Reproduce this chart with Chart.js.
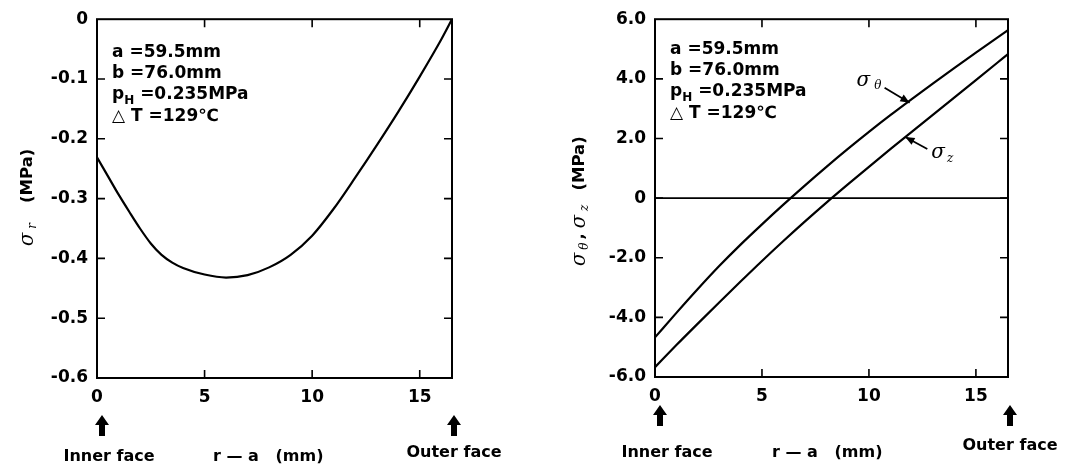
<!DOCTYPE html>
<html>
<head>
<meta charset="utf-8">
<script src="https://cdn.jsdelivr.net/npm/chart.js@4"></script>
<style>
  html, body { margin: 0; padding: 0; background: #fff; }
  #wrap { position: relative; width: 1070px; height: 464px; }
  .box { position: absolute; top: 0; width: 535px; height: 464px; }
</style>
</head>
<body>
<div id="wrap">
  <div class="box" style="left:0"><canvas id="leftChart"></canvas></div>
  <div class="box" style="left:535px"><canvas id="rightChart"></canvas></div>
</div>
<script>
// --- data ---
const rLeft = [0, 0.5, 1, 1.5, 2, 2.5, 3, 3.5, 4, 5, 6, 7, 8, 9, 10, 11, 12, 13, 14, 15, 16, 16.5];
const sigmaR = [-0.231, -0.262, -0.293, -0.322, -0.35, -0.375, -0.394, -0.407, -0.416, -0.427, -0.432,
                -0.428, -0.415, -0.394, -0.362, -0.317, -0.265, -0.211, -0.155, -0.096, -0.034, 0];

const rRight = [0, 1, 2, 3, 4, 5, 6, 7, 8, 9, 10, 11, 12, 13, 14, 15, 16, 16.5];
const sigmaTheta = [-4.67, -3.85, -3.05, -2.28, -1.56, -0.88, -0.22, 0.42, 1.04, 1.64,
                    2.22, 2.78, 3.32, 3.85, 4.37, 4.88, 5.38, 5.63];
const sigmaZ = [-5.67, -4.93, -4.21, -3.50, -2.80, -2.11, -1.44, -0.79, -0.16, 0.45,
                1.05, 1.64, 2.22, 2.80, 3.38, 3.96, 4.54, 4.83];

const xTicks = [0, 5, 10, 15];
const yTicksLeft = [0, -0.1, -0.2, -0.3, -0.4, -0.5, -0.6];
const yLabelsLeft = ['0', '-0.1', '-0.2', '-0.3', '-0.4', '-0.5', '-0.6'];
const yTicksRight = [6, 4, 2, 0, -2, -4, -6];
const yLabelsRight = ['6.0', '4.0', '2.0', '0', '-2.0', '-4.0', '-6.0'];

const SANS = '"DejaVu Sans", sans-serif';
const SERIF = '"DejaVu Serif", serif';

// parameter block, as rich text parts
const paramLines = [
  [{ t: 'a =59.5mm' }],
  [{ t: 'b =76.0mm' }],
  [{ t: 'p' }, { t: 'H', sub: true }, { t: ' =0.235MPa' }],
  [{ t: '△ T =129℃' }]
];

// draw a line of mixed text (subscripts, italic sigma)
function drawRich(ctx, parts, x, y, size) {
  let cx = x;
  ctx.textBaseline = 'middle';
  ctx.textAlign = 'left';
  for (const p of parts) {
    cx += p.gap || 0;
    const s = p.sub ? Math.round(size * 0.72) : (p.sig ? size + 3 : size);
    ctx.font = p.sig ? `italic ${s}px ${SERIF}` : `bold ${s}px ${SANS}`;
    ctx.fillText(p.t, cx, y + (p.sub ? size * 0.32 : 0));
    cx += ctx.measureText(p.t).width;
  }
  return cx - x;
}

function upArrow(ctx, x, top) {
  ctx.beginPath();
  ctx.moveTo(x, top);
  ctx.lineTo(x + 7, top + 10);
  ctx.lineTo(x + 3, top + 10);
  ctx.lineTo(x + 3, top + 21);
  ctx.lineTo(x - 3, top + 21);
  ctx.lineTo(x - 3, top + 10);
  ctx.lineTo(x - 7, top + 10);
  ctx.closePath();
  ctx.fill();
}

function lineArrow(ctx, x1, y1, x2, y2) {
  ctx.beginPath();
  ctx.moveTo(x1, y1);
  ctx.lineTo(x2, y2);
  ctx.stroke();
  const a = Math.atan2(y2 - y1, x2 - x1);
  ctx.beginPath();
  ctx.moveTo(x2, y2);
  ctx.lineTo(x2 - 10 * Math.cos(a - 0.4), y2 - 10 * Math.sin(a - 0.4));
  ctx.lineTo(x2 - 10 * Math.cos(a + 0.4), y2 - 10 * Math.sin(a + 0.4));
  ctx.closePath();
  ctx.fill();
}

// frame, inward ticks and all the text around the plot
const framePlugin = {
  id: 'frame',
  afterDraw(chart, args, o) {
    const { ctx, chartArea: ca } = chart;
    const xs = chart.scales.x, ys = chart.scales.y;
    ctx.save();
    ctx.strokeStyle = '#000';
    ctx.fillStyle = '#000';
    ctx.lineWidth = 2;
    ctx.strokeRect(ca.left, ca.top, ca.right - ca.left, ca.bottom - ca.top);

    ctx.lineWidth = 1.6;
    ctx.beginPath();
    xTicks.forEach(v => {
      const px = xs.getPixelForValue(v);
      if (px - ca.left < 3) return;
      ctx.moveTo(px, ca.bottom); ctx.lineTo(px, ca.bottom - 8);
      ctx.moveTo(px, ca.top); ctx.lineTo(px, ca.top + 8);
    });
    o.yTicks.forEach(v => {
      const py = ys.getPixelForValue(v);
      if (py - ca.top < 3 || ca.bottom - py < 3) return;
      ctx.moveTo(ca.left, py); ctx.lineTo(ca.left + 8, py);
      ctx.moveTo(ca.right, py); ctx.lineTo(ca.right - 8, py);
    });
    ctx.stroke();

    if (o.zeroLine) {
      const py = ys.getPixelForValue(0);
      ctx.lineWidth = 1.6;
      ctx.beginPath();
      ctx.moveTo(ca.left, py); ctx.lineTo(ca.right, py);
      ctx.stroke();
    }

    // parameter block
    paramLines.forEach((parts, i) => {
      drawRich(ctx, parts, ca.left + 15, ca.top + o.paramDy + i * 21.4, 17);
    });

    // rotated y-axis title
    ctx.save();
    ctx.translate(o.titleX, o.titleY);
    ctx.rotate(-Math.PI / 2);
    drawRich(ctx, o.yTitle, 0, 0, 16.5);
    ctx.restore();

    // arrows and labels below the axis
    const x0 = xs.getPixelForValue(0), x1 = xs.getPixelForValue(xs.max);
    upArrow(ctx, x0 + 5, ca.bottom + o.arrowDy);
    upArrow(ctx, x1 + 2, ca.bottom + o.arrowDy);
    ctx.font = `bold 16px ${SANS}`;
    ctx.textAlign = 'center';
    ctx.textBaseline = 'middle';
    ctx.fillText('Inner face', x0 + 12, ca.bottom + o.labelDy);
    ctx.fillText('Outer face', x1 + 2, ca.bottom + o.labelDy + o.outerDy);
    ctx.textAlign = 'left';
    ctx.fillText('r — a   (mm)', ca.left + o.unitDx, ca.bottom + o.labelDy);

    // curve callouts
    (o.callouts || []).forEach(c => {
      const tx = xs.getPixelForValue(c.x), ty = ys.getPixelForValue(c.y);
      ctx.lineWidth = 1.8;
      lineArrow(ctx, tx + c.fx, ty + c.fy, tx, ty);
      drawRich(ctx, c.label, tx + c.lx, ty + c.ly, 17);
    });
    ctx.restore();
  }
};

function makeScales(yMin, yMax, yTicks, yLabels, yWidth, xHeight) {
  const tickFont = { family: SANS, size: 17, weight: 'bold' };
  return {
    x: {
      type: 'linear', min: 0, max: 16.5,
      afterBuildTicks: s => { s.ticks = xTicks.map(v => ({ value: v })); },
      afterFit: s => { s.height = xHeight; },
      grid: { display: false, drawTicks: false },
      border: { display: false },
      ticks: { color: '#000', font: tickFont, padding: 9, maxRotation: 0, autoSkip: false }
    },
    y: {
      type: 'linear', min: yMin, max: yMax,
      afterBuildTicks: s => { s.ticks = yTicks.map(v => ({ value: v })); },
      afterFit: s => { s.width = yWidth; },
      grid: { display: false, drawTicks: false },
      border: { display: false },
      ticks: {
        color: '#000', font: tickFont, padding: 9, autoSkip: false,
        callback: v => yLabels[yTicks.indexOf(v)] ?? ''
      }
    }
  };
}

function curve(xsArr, ysArr) {
  return {
    data: xsArr.map((x, i) => ({ x, y: ysArr[i] })),
    borderColor: '#000', borderWidth: 2.2, pointRadius: 0,
    fill: false, cubicInterpolationMode: 'monotone'
  };
}

const baseOptions = {
  responsive: true, maintainAspectRatio: false, animation: false, events: [],
  plugins: { legend: { display: false }, tooltip: { enabled: false } }
};

new Chart(document.getElementById('leftChart'), {
  type: 'line',
  data: { datasets: [curve(rLeft, sigmaR)] },
  options: {
    ...baseOptions,
    layout: { padding: { left: 0, top: 16, right: 83, bottom: 0 } },
    scales: makeScales(-0.6, 0, yTicksLeft, yLabelsLeft, 97, 86),
    plugins: {
      ...baseOptions.plugins,
      frame: {
        yTicks: yTicksLeft, zeroLine: false,
        paramDy: 33,
        titleX: 28, titleY: 246,
        yTitle: [{ t: 'σ', sig: true }, { t: 'r', sig: true, sub: true, gap: 4 }, { t: '(MPa)', gap: 20 }],
        arrowDy: 37, labelDy: 79, outerDy: -4, unitDx: 116
      }
    }
  },
  plugins: [framePlugin]
});

new Chart(document.getElementById('rightChart'), {
  type: 'line',
  data: { datasets: [curve(rRight, sigmaTheta), curve(rRight, sigmaZ)] },
  options: {
    ...baseOptions,
    layout: { padding: { left: 0, top: 15, right: 62, bottom: 0 } },
    scales: makeScales(-6, 6, yTicksRight, yLabelsRight, 120, 87),
    plugins: {
      ...baseOptions.plugins,
      frame: {
        yTicks: yTicksRight, zeroLine: true,
        paramDy: 30,
        titleX: 45, titleY: 266,
        yTitle: [{ t: 'σ', sig: true }, { t: 'θ', sig: true, sub: true, gap: 3 }, { t: ',', gap: 3 },
                 { t: 'σ', sig: true, gap: 5 }, { t: 'z', sig: true, sub: true, gap: 4 },
                 { t: '(MPa)', gap: 14 }],
        arrowDy: 28, labelDy: 76, outerDy: -7, unitDx: 117,
        callouts: [
          { x: 11.9, y: 3.2, fx: -25, fy: -15, lx: -53, ly: -22,
            label: [{ t: 'σ', sig: true }, { t: 'θ', sig: true, sub: true, gap: 4 }] },
          { x: 11.7, y: 2.05, fx: 22, fy: 12, lx: 26, ly: 16,
            label: [{ t: 'σ', sig: true }, { t: 'z', sig: true, sub: true, gap: 2 }] }
        ]
      }
    }
  },
  plugins: [framePlugin]
});
</script>
</body>
</html>
